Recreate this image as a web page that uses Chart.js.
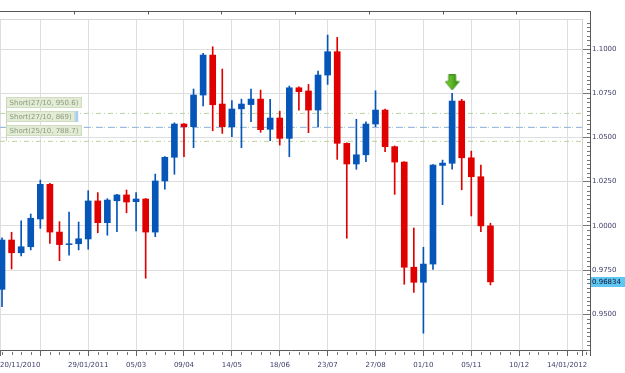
<!DOCTYPE html>
<html><head><meta charset="utf-8">
<script src="https://cdn.jsdelivr.net/npm/chart.js@4.4.0/dist/chart.umd.min.js"></script>
<style>html,body{margin:0;padding:0;background:#fff;overflow:hidden}#wrap{width:625px;height:373px;position:relative}</style>
</head><body><div id="wrap"><canvas id="c" width="625" height="373"></canvas></div>
<script>
// Weekly candles, index 0 = week of 27/11/2010
const opens  = [0.9641,0.9920,0.9848,0.9882,1.0039,1.0235,0.9965,0.9894,0.9899,0.9926,1.0141,1.0018,1.0142,1.0175,1.0137,1.0152,0.9965,1.0254,1.0388,1.0576,1.0561,1.0740,1.0966,1.0689,1.0561,1.0662,1.0686,1.0717,1.0546,1.0610,1.0495,1.0781,1.0763,1.0655,1.0853,1.0985,1.0467,1.0350,1.0402,1.0576,1.0655,1.0448,1.0361,0.9766,0.9681,0.9784,1.0342,1.0354,1.0706,1.0385,1.0278,1.0000];
const highs  = [0.9933,0.9964,1.0029,1.0067,1.0259,1.0240,1.0024,1.0078,1.0022,1.0199,1.0188,1.0154,1.0178,1.0203,1.0188,1.0155,1.0293,1.0392,1.0583,1.0578,1.0774,1.0976,1.1013,1.0887,1.0708,1.0717,1.0774,1.0768,1.0716,1.0649,1.0791,1.0787,1.0800,1.0876,1.1079,1.1066,1.0470,1.0603,1.0589,1.0764,1.0661,1.0452,1.0363,0.9988,0.9879,1.0347,1.0372,1.0750,1.0716,1.0423,1.0344,1.0015];
const lows   = [0.9543,0.9756,0.9830,0.9864,0.9986,0.9901,0.9803,0.9835,0.9864,0.9868,0.9961,0.9947,0.9967,1.0074,0.9971,0.9704,0.9939,1.0207,1.0292,1.0391,1.0442,1.0678,1.0538,1.0523,1.0504,1.0442,1.0589,1.0529,1.0482,1.0457,1.0391,1.0655,1.0527,1.0561,1.0800,1.0376,0.9930,1.0320,1.0363,1.0561,1.0419,1.0178,0.9670,0.9624,0.9393,0.9754,1.0120,1.0320,1.0204,1.0056,0.9967,0.9666];
const closes = [0.9920,0.9848,0.9882,1.0043,1.0235,0.9965,0.9894,0.9899,0.9927,1.0141,1.0018,1.0146,1.0175,1.0135,1.0152,0.9965,1.0254,1.0388,1.0576,1.0561,1.0740,1.0966,1.0685,1.0561,1.0661,1.0689,1.0717,1.0544,1.0610,1.0495,1.0781,1.0759,1.0655,1.0853,1.0985,1.0467,1.0350,1.0402,1.0576,1.0655,1.0448,1.0361,0.9766,0.9681,0.9784,1.0344,1.0355,1.0706,1.0385,1.0278,1.0000,0.96834];

const firstTickLabel = '20/11/2010';
const xTickWeeks  = [4, 9, 14, 19, 24, 29, 34, 39, 44, 49, 54, 59];
const xTickLabels = ['', '29/01/2011', '05/03', '09/04', '14/05', '18/06', '23/07', '27/08', '01/10', '05/11', '10/12', '14/01/2012'];
const yTickValues = [0.95, 0.975, 1.0, 1.025, 1.05, 1.075, 1.1];

const orderLevels = [1.0636, 1.0557, 1.0478];
const orderLabels = ['Short(27/10, 950.6)', 'Short(27/10, 869)', 'Short(25/10, 788.7)'];
const signalIndex = 47;
const signalPrice = 1.0811;
const lastPrice = 0.96834;

// view range
const xMin = -0.21, xMax = 60.56;
const yMin = 0.9298, yMax = 1.1170;

Chart.defaults.font.family = "'DejaVu Sans', sans-serif";
Chart.defaults.font.size = 7;
Chart.defaults.color = '#3d3d6b';

const UP = '#0656b9', DOWN = '#e00000';
const idx = opens.map((_, i) => i);
const colors = idx.map(i => closes[i] >= opens[i] ? UP : DOWN);

function makeArrow() {
  const c = document.createElement('canvas'); c.width = 15; c.height = 16;
  const g = c.getContext('2d');
  const grad = g.createLinearGradient(0, 0, 15, 0);
  grad.addColorStop(0, '#86dc3e'); grad.addColorStop(1, '#2c8a06');
  g.fillStyle = grad;
  g.beginPath();
  g.moveTo(4, 0.5); g.lineTo(11, 0.5); g.lineTo(11, 7); g.lineTo(14.5, 7);
  g.lineTo(7.5, 15.5); g.lineTo(0.5, 7); g.lineTo(4, 7); g.closePath();
  g.fill();
  g.strokeStyle = '#2e7d0c'; g.lineWidth = 0.8; g.stroke();
  return c;
}

const datasets = [
  { type: 'bar', data: idx.map(i => ({x: i, y: [opens[i], closes[i]]})), backgroundColor: colors, barThickness: 6, grouped: false, order: 1 },
  { type: 'bar', data: idx.map(i => ({x: i, y: [lows[i], highs[i]]})), backgroundColor: colors, barThickness: 1, grouped: false, order: 2 },
  { type: 'line', data: [{x: signalIndex, y: signalPrice}], showLine: false, pointStyle: makeArrow(), pointRadius: 6, pointHoverRadius: 0, order: 0 }
];
orderLevels.forEach((lv, k) => {
  datasets.push({ type: 'line', data: [{x: xMin, y: lv}, {x: xMax, y: lv}], borderColor: '#b9d29e', borderWidth: 1, borderDash: [5, 3, 1, 3], pointRadius: 0, pointHoverRadius: 0, fill: false, order: 4 });
  if (k === 1) datasets.push({ type: 'line', data: [{x: xMin, y: lv}, {x: xMax, y: lv}], borderColor: '#95b7e6', borderWidth: 1, borderDash: [7, 5], pointRadius: 0, pointHoverRadius: 0, fill: false, order: 3 });
});

const xTickPositions = [xMin].concat(xTickWeeks, [xMax]);
const xTickText = [firstTickLabel].concat(xTickLabels, ['']);
const noPad = () => ({ left: 0, top: 0, right: 0, bottom: 0 });

const deco = {
  id: 'deco',
  beforeDatasetsDraw(chart) {
    const {ctx, chartArea: a} = chart;
    ctx.save();
    ctx.strokeStyle = '#d6d6d6'; ctx.lineWidth = 1;
    ctx.beginPath(); ctx.moveTo(a.left, a.top + 0.5); ctx.lineTo(a.right, a.top + 0.5); ctx.stroke();
    ctx.restore();
  },
  afterDatasetsDraw(chart) {
    const {ctx, chartArea: a, scales: {y}} = chart;
    ctx.save();
    ctx.font = "7px 'DejaVu Sans'";
    ctx.textBaseline = 'middle';
    let firstTop = null, lastPy = null;
    const bx = a.left + 6;
    orderLevels.forEach((lv, k) => {
      const py = y.getPixelForValue(lv);
      const top = Math.round(py) - 16;
      const w = ctx.measureText(orderLabels[k]).width + 7;
      ctx.fillStyle = '#e2ebd5';
      ctx.fillRect(bx, top, w, 11);
      ctx.strokeStyle = '#cfdcbf'; ctx.lineWidth = 1;
      ctx.strokeRect(bx + 0.5, top + 0.5, w - 1, 10);
      if (k === 1) { ctx.fillStyle = '#aecdf2'; ctx.fillRect(bx + w, top, 3, 11); }
      ctx.fillStyle = '#8d9c7d';
      ctx.fillText(orderLabels[k], bx + 3.5, top + 5.8);
      if (firstTop === null) firstTop = top;
      lastPy = py;
    });
    ctx.strokeStyle = '#c9d9b3';
    ctx.beginPath(); ctx.moveTo(bx + 0.5, firstTop); ctx.lineTo(bx + 0.5, lastPy); ctx.stroke();
    ctx.restore();
  },
  afterDraw(chart) {
    const {ctx, chartArea: a, scales: {x, y}} = chart;
    const right = a.right + 8, top = a.top - 8;
    ctx.save();
    ctx.strokeStyle = '#585858'; ctx.lineWidth = 1;
    ctx.beginPath();
    ctx.moveTo(a.left, top + 0.5); ctx.lineTo(right + 1, top + 0.5);
    ctx.moveTo(right + 0.5, top); ctx.lineTo(right + 0.5, a.bottom + 6);
    ctx.moveTo(a.right, a.bottom + 0.5); ctx.lineTo(right, a.bottom + 0.5);
    ctx.stroke();
    ctx.beginPath();
    for (let k = 1; k < 8; k++) {
      const px = Math.round(a.left + (right - a.left) * k / 8) + 0.5;
      ctx.moveTo(px, top); ctx.lineTo(px, top + 3.5);
    }
    ctx.stroke();
    ctx.strokeStyle = '#777';
    ctx.beginPath();
    for (let w = Math.ceil(xMin); ; w++) {
      const px = x.getPixelForValue(w);
      if (px > right - 1) break;
      if ((w + 1) % 5 === 0) continue;
      const p = Math.round(px) + 0.5;
      ctx.moveTo(p, a.bottom + 2); ctx.lineTo(p, a.bottom + 5);
    }
    for (let k = Math.ceil(yMin * 400); k <= Math.floor(yMax * 400); k++) {
      if (k % 10 === 0) continue;
      const py = Math.round(y.getPixelForValue(k / 400)) + 0.5;
      ctx.moveTo(right - 3, py); ctx.lineTo(right, py);
    }
    ctx.stroke();
    const py = y.getPixelForValue(lastPrice);
    ctx.fillStyle = '#5ec8f3';
    ctx.fillRect(right + 1, Math.round(py) - 5, chart.width - right, 10);
    ctx.fillStyle = '#101030';
    ctx.font = "7px 'DejaVu Sans'";
    ctx.textBaseline = 'middle';
    ctx.fillText(lastPrice.toFixed(5), right + 2, Math.round(py) + 0.5);
    ctx.restore();
  }
};

new Chart(document.getElementById('c'), {
  type: 'bar',
  data: { datasets },
  plugins: [deco],
  options: {
    responsive: false, animation: false, devicePixelRatio: 1, events: [],
    layout: { autoPadding: false, padding: { top: 19, left: 0, right: 0, bottom: 0 } },
    plugins: { legend: { display: false }, tooltip: { enabled: false } },
    scales: {
      x: {
        type: 'linear', min: xMin, max: xMax, bounds: 'data', offset: false,
        grid: { offset: false, color: '#dedede', lineWidth: 1, tickColor: '#666', tickLength: 6, drawTicks: true },
        border: { display: true, color: '#585858', width: 1 },
        ticks: { autoSkip: false, maxRotation: 0, minRotation: 0, align: 'inner', padding: 5, color: '#3d3d6b', font: { size: 7 },
          callback: (v, i) => xTickText[i] },
        afterBuildTicks: s => { s.ticks = xTickPositions.map(v => ({ value: v })); },
        afterFit: s => {
          s.height = 23; s.paddingLeft = 0; s.paddingRight = 0;
          if (s._margins) { s._margins.left = 0; s._margins.right = 0; }
          s.getPadding = noPad;
        }
      },
      y: {
        type: 'linear', position: 'right', min: yMin, max: yMax, bounds: 'data', beginAtZero: false,
        grid: { color: '#dedede', tickColor: '#777', tickLength: 8 },
        border: { display: true, color: '#d0d0d0' },
        ticks: { padding: 2, color: '#3d3d6b', font: { size: 7 }, callback: v => Number(v).toFixed(4) },
        afterBuildTicks: s => { s.ticks = yTickValues.map(v => ({ value: v })); },
        afterFit: s => {
          s.width = 43; s.paddingTop = 0; s.paddingBottom = 0;
          if (s._margins) { s._margins.top = 0; s._margins.bottom = 0; }
          s.getPadding = noPad;
        }
      }
    }
  }
});
</script>
</body></html>
